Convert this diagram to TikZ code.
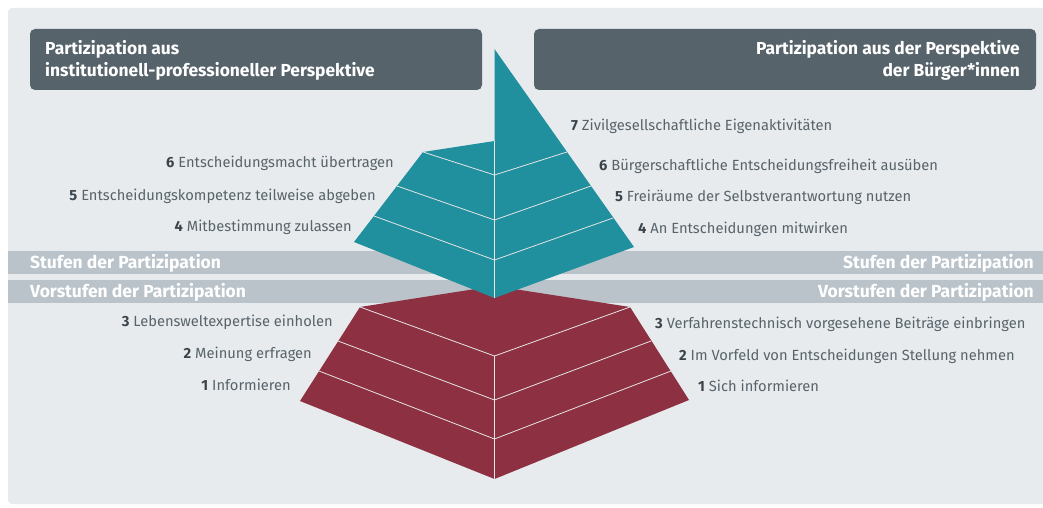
\documentclass[tikz,border=0pt]{standalone}
\usepackage{fontspec}
\setmainfont{Fira Sans}
\usepackage{xcolor}
\usepackage{tikz}
\usetikzlibrary{positioning}
\definecolor{PanelGrey}{HTML}{E7EBEE}
\definecolor{HeadSlate}{HTML}{56636B}
\definecolor{BandGrey}{HTML}{B9C3C9}
\definecolor{StepTeal}{HTML}{208F9E}
\definecolor{StepRed}{HTML}{8D3042}
\definecolor{TextGrey}{HTML}{58636A}
\definecolor{NumGrey}{HTML}{3A444A}

\begin{document}
\begin{tikzpicture}[x=1pt,y=-1pt,
    every node/.style={inner sep=0pt, text=TextGrey, font=\fontsize{14.7}{17}\selectfont},
    headtxt/.style={text=white, font=\fontsize{17.4}{21.5}\selectfont\bfseries},
    bandtxt/.style={text=white, font=\fontsize{17.5}{19}\selectfont\bfseries},
    seam/.style={white!80!gray, line width=0.8pt}]
        \useasboundingbox (0,0) rectangle (1043,508);
        % panel, bands and header boxes
        \fill[PanelGrey, rounded corners=4pt] (8,8) rectangle (1060,504);
        \fill[BandGrey] (8,251) rectangle (1043,274);
        \fill[BandGrey] (8,280) rectangle (1043,303);
        \fill[HeadSlate, rounded corners=5pt] (30,29) rectangle (482,90);
        \fill[HeadSlate, rounded corners=5pt] (534,29) rectangle (1036,90);
        \node[headtxt, anchor=base west, align=left] (hdInst) at (45,76.5)
          {Partizipation aus\\institutionell-professioneller Perspektive};
        \node[headtxt, anchor=base east, align=right] (hdBuerg) at (1020,76.5)
          {Partizipation aus der Perspektive\\der Bürger*innen};
        \node[bandtxt, anchor=base west] (bandL1) at (30,268) {Stufen der Partizipation};
        \node[bandtxt, anchor=base east] (bandR1) at (1034,268) {Stufen der Partizipation};
        \node[bandtxt, anchor=base west] (bandL2) at (30,297) {Vorstufen der Partizipation};
        \node[bandtxt, anchor=base east] (bandR2) at (1034,297) {Vorstufen der Partizipation};
        % lower block (Vorstufen)
        \fill[StepRed] (494.5,286) -- (630,307) -- (689,400) -- (494.5,479) -- (300,401) -- (360,307) -- cycle;
        \draw[seam] (360,307) -- (494.5,356) -- (630,307);
        \draw[seam] (338,341) -- (494.5,400) -- (651,341);
        \draw[seam] (319,371) -- (494.5,439) -- (671,371);
        \draw[seam] (494.5,356) -- (494.5,479);
        % upper pyramid (Stufen)
        \fill[StepTeal] (494.5,141) -- (423,152) -- (354,242) -- (494.5,298) -- cycle;
        \fill[StepTeal] (494.5,49) -- (634,247) -- (494.5,298) -- cycle;
        \draw[seam] (423,152) -- (494.5,175) -- (567,152);
        \draw[seam] (397,186) -- (494.5,220) -- (591,186);
        \draw[seam] (374,216) -- (494.5,260) -- (613,218);
        \draw[seam] (494.5,141) -- (494.5,298);
        % level labels
        \node[anchor=base east] (inst6) at (394,167) {\textcolor{NumGrey}{\textbf{6}} Entscheidungsmacht übertragen};
        \node[anchor=base east] (inst5) at (376,200) {\textcolor{NumGrey}{\textbf{5}} Entscheidungskompetenz teilweise abgeben};
        \node[anchor=base east] (inst4) at (352,231.5) {\textcolor{NumGrey}{\textbf{4}} Mitbestimmung zulassen};
        \node[anchor=base east] (inst3) at (333,326.5) {\textcolor{NumGrey}{\textbf{3}} Lebensweltexpertise einholen};
        \node[anchor=base east] (inst2) at (312,358.5) {\textcolor{NumGrey}{\textbf{2}} Meinung erfragen};
        \node[anchor=base east] (inst1) at (291,390) {\textcolor{NumGrey}{\textbf{1}} Informieren};
        \node[anchor=base west] (buerg7) at (571,130) {\textcolor{NumGrey}{\textbf{7}} Zivilgesellschaftliche Eigenaktivitäten};
        \node[anchor=base west] (buerg6) at (599,170.5) {\textcolor{NumGrey}{\textbf{6}} Bürgerschaftliche Entscheidungsfreiheit ausüben};
        \node[anchor=base west] (buerg5) at (615,201.5) {\textcolor{NumGrey}{\textbf{5}} Freiräume der Selbstverantwortung nutzen};
        \node[anchor=base west] (buerg4) at (638,233) {\textcolor{NumGrey}{\textbf{4}} An Entscheidungen mitwirken};
        \node[anchor=base west] (buerg3) at (655,328) {\textcolor{NumGrey}{\textbf{3}} Verfahrenstechnisch vorgesehene Beiträge einbringen};
        \node[anchor=base west] (buerg2) at (679,360) {\textcolor{NumGrey}{\textbf{2}} Im Vorfeld von Entscheidungen Stellung nehmen};
        \node[anchor=base west] (buerg1) at (698,391.5) {\textcolor{NumGrey}{\textbf{1}} Sich informieren};
      \end{tikzpicture}
\end{document}
